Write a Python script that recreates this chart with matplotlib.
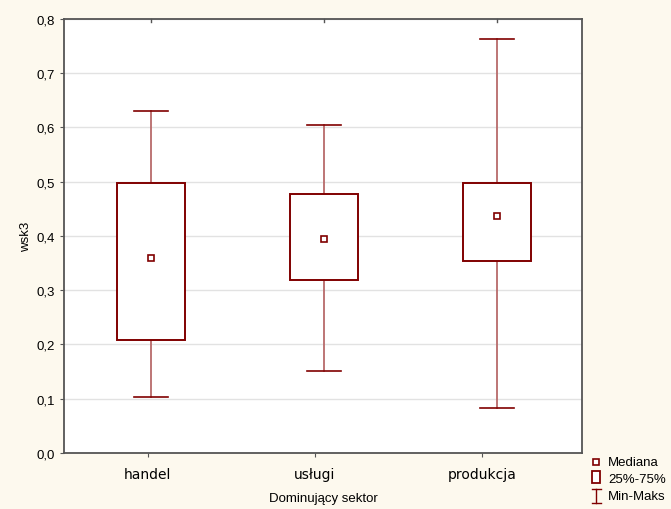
import matplotlib.pyplot as plt
from matplotlib.patches import Rectangle

# dane
kategorie = ["handel", "usługi", "produkcja"]
mediana = [0.359, 0.395, 0.437]
q1 = [0.208, 0.318, 0.354]
q3 = [0.498, 0.477, 0.498]
minimum = [0.103, 0.151, 0.083]
maksimum = [0.630, 0.605, 0.763]
legenda = ["Mediana", "25%-75%", "Min-Maks"]

plt.rcParams['font.family'] = ['Liberation Sans', 'DejaVu Sans']
tlo = '#fdf9ee'
czerwony = '#800000'
wasy = '#b86a6a'

fig = plt.figure(figsize=(6.71, 5.10), dpi=100)
fig.patch.set_facecolor(tlo)
ax = fig.add_axes([0.0954, 0.1098, 0.772, 0.851])
ax.set_facecolor('white')

# pozycje pudełek (lekko przesunięte względem opisów, jak w oryginale)
poz_tick = [1, 2, 3]
poz_box = [1.02, 2.055, 3.09]
szer = 0.407
szer_wasy = 0.205

for x, lo, hi, mn, mx, md in zip(poz_box, q1, q3, minimum, maksimum, mediana):
    ax.plot([x, x], [hi, mx], color=wasy, lw=1.3, zorder=2)
    ax.plot([x, x], [mn, lo], color=wasy, lw=1.3, zorder=2)
    ax.plot([x - szer_wasy / 2, x + szer_wasy / 2], [mx, mx], color=czerwony, lw=1.2, zorder=2)
    ax.plot([x - szer_wasy / 2, x + szer_wasy / 2], [mn, mn], color=czerwony, lw=1.2, zorder=2)
    ax.add_patch(Rectangle((x - szer / 2, lo), szer, hi - lo, fill=True, facecolor='white',
                           edgecolor=czerwony, lw=1.4, zorder=3))
    ax.plot(x, md, marker='s', ms=5, mfc='white', mec=czerwony, mew=1.2, zorder=4)

ax.set_xlim(0.5, 3.6)
ax.set_ylim(0, 0.8)
ax.set_yticks([i / 10 for i in range(9)])
ax.set_yticklabels([f"{i / 10:.1f}".replace('.', ',') for i in range(9)], fontsize=9.5)
ax.set_xticks(poz_tick)
ax.set_xticklabels(kategorie, fontsize=10, family='DejaVu Sans')
ax.tick_params(axis='x', length=3, pad=7, color='#555555')
ax.tick_params(axis='y', length=3, color='#555555')
ax.grid(axis='y', color='#e2e2e2', lw=1)
ax.set_axisbelow(True)
for s in ax.spines.values():
    s.set_color('#555555')
    s.set_linewidth(1.3)

# znaczniki na górnej krawędzi
for x in poz_box:
    ax.plot([x, x], [0.8, 0.795], color='#555555', lw=1, clip_on=False)

ax.set_ylabel("wsk3", fontsize=9.5, labelpad=3)
ax.set_xlabel("Dominujący sektor", fontsize=9.5, labelpad=8)

# legenda rysowana ręcznie (współrzędne w pikselach)
lg = fig.add_axes([0, 0, 1, 1])
lg.set_xlim(0, 671)
lg.set_ylim(510, 0)
lg.axis('off')
lg.patch.set_alpha(0)
lg.plot(596, 463, marker='s', ms=4, mfc='white', mec=czerwony, mew=1.2)
lg.add_patch(Rectangle((592, 472), 8, 12, facecolor='white', edgecolor=czerwony, lw=1.3))
lg.plot([596, 596], [490, 504], color=czerwony, lw=1)
lg.plot([591.5, 600.5], [490, 490], color=czerwony, lw=1)
lg.plot([591.5, 600.5], [504, 504], color=czerwony, lw=1)
for yy, txt in zip([463, 480, 497], legenda):
    lg.text(608, yy, txt, fontsize=9.5, va='center', ha='left')

fig.savefig("out.png", dpi=100, facecolor=tlo)
